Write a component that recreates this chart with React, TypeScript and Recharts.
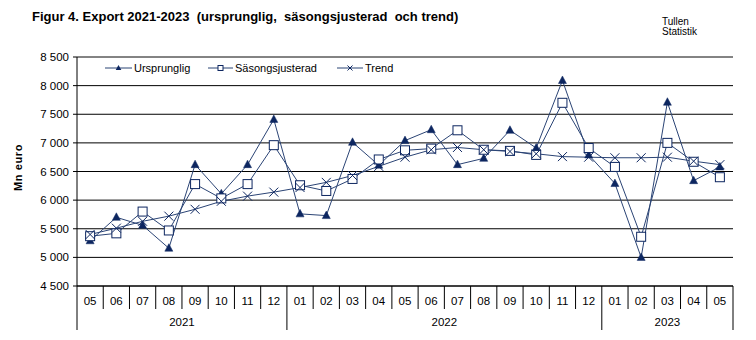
import React from 'react';
import { LineChart, Line, XAxis, YAxis, CartesianGrid, Legend, ReferenceLine } from 'recharts';

const months = ['05','06','07','08','09','10','11','12','01','02','03','04','05','06','07','08','09','10','11','12','01','02','03','04','05'];
const years = ['2021','2021','2021','2021','2021','2021','2021','2021','2022','2022','2022','2022','2022','2022','2022','2022','2022','2022','2022','2022','2023','2023','2023','2023','2023'];
const ursprunglig = [5290,5700,5560,5160,6620,6110,6620,7410,5760,5730,7010,6610,7040,7230,6620,6730,7220,6910,8090,6790,6290,5000,7710,6340,6580];
const sasongsjusterad = [5370,5420,5800,5470,6280,6030,6280,6960,6260,6160,6370,6710,6870,6900,7220,6880,6860,6790,7700,6910,6580,5360,7000,6670,6400];
const trend = [5400,5510,5630,5720,5840,5980,6070,6140,6220,6310,6430,6590,6750,6880,6920,6880,6850,6810,6760,6750,6740,6740,6750,6680,6620];
const yTicks = [4500,5000,5500,6000,6500,7000,7500,8000,8500];

const NAVY = '#0d2660';
const LINE = '#2b4475';
const FONT = "Arial, 'Liberation Sans', sans-serif";

const W = 756, H = 340;
const M_LEFT = 77, M_RIGHT = 23, M_TOP = 57, X_H = 54;
const PLOT_W = W - M_LEFT - M_RIGHT;
const BAND = PLOT_W / months.length;

const data = months.map((m, i) => ({
  key: i,
  month: m,
  year: years[i],
  u: ursprunglig[i],
  s: sasongsjusterad[i],
  t: trend[i],
}));

const fmt = (v: number) => String(v).replace(/\B(?=(\d{3})+(?!\d))/g, ' ');

const Tri = (p: any) => {
  const { cx, cy } = p;
  if (cx == null || cy == null) return null;
  return <polygon key={`tri-${p.index}`} points={`${cx},${cy - 4.5} ${cx - 4},${cy + 3} ${cx + 4},${cy + 3}`} fill={NAVY} stroke={NAVY} strokeWidth={0.5} />;
};
const Sq = (p: any) => {
  const { cx, cy } = p;
  if (cx == null || cy == null) return null;
  return <rect key={`sq-${p.index}`} x={cx - 4.5} y={cy - 4.5} width={9} height={9} fill="#fff" stroke={NAVY} strokeWidth={1} />;
};
const Cross = (p: any) => {
  const { cx, cy } = p;
  if (cx == null || cy == null) return null;
  return (
    <g key={`x-${p.index}`}>
      <line x1={cx - 4.5} y1={cy - 4.5} x2={cx + 4.5} y2={cy + 4.5} stroke={NAVY} strokeWidth={1} />
      <line x1={cx - 4.5} y1={cy + 4.5} x2={cx + 4.5} y2={cy - 4.5} stroke={NAVY} strokeWidth={1} />
    </g>
  );
};

const XTick = (props: any) => {
  const { x, y, payload } = props;
  const i = payload.index;
  const half = BAND / 2;
  const left = x - half;
  const yearStart = i === 0 || years[i] !== years[i - 1];
  const last = i === months.length - 1;
  let yearLabel = null;
  if (yearStart) {
    let n = 0;
    for (let j = i; j < years.length && years[j] === years[i]; j++) n++;
    yearLabel = (
      <text x={left + (n * BAND) / 2} y={y + 40} textAnchor="middle" fontSize={11.5} fill="#000" fontFamily={FONT}>
        {years[i]}
      </text>
    );
  }
  return (
    <g>
      <line x1={left} y1={y} x2={left} y2={y + (yearStart ? 44 : 23)} stroke="#000" strokeWidth={1} />
      {last && <line x1={x + half} y1={y} x2={x + half} y2={y + 44} stroke="#000" strokeWidth={1} />}
      <text x={x} y={y + 19} textAnchor="middle" fontSize={11.5} fill="#000" fontFamily={FONT}>
        {months[i]}
      </text>
      {yearLabel}
    </g>
  );
};

const YLabel = (props: any) => {
  const vb = props.viewBox || {};
  const cx = (vb.x ?? 0) + 22;
  const cy = (vb.y ?? 0) + (vb.height ?? 0) / 2 - 4;
  return (
    <text x={cx} y={cy} transform={`rotate(-90, ${cx}, ${cy})`} textAnchor="middle" fontSize={11} fontWeight="bold" fill="#000" fontFamily={FONT} letterSpacing={0.6}>
      Mn euro
    </text>
  );
};

const LegendContent = () => {
  const items = [
    { label: 'Ursprunglig', x: 0, w: 27, tx: 29, kind: 'tri' },
    { label: 'Säsongsjusterad', x: 103, w: 25, tx: 130, kind: 'sq' },
    { label: 'Trend', x: 232, w: 26, tx: 260, kind: 'x' },
  ];
  return (
    <svg width={320} height={16} style={{ display: 'block' }}>
      {items.map((it) => {
        const cx = it.x + it.w / 2;
        const cy = 7;
        return (
          <g key={it.label}>
            <line x1={it.x} y1={cy} x2={it.x + it.w} y2={cy} stroke={LINE} strokeWidth={1} />
            {it.kind === 'tri' && <polygon points={`${cx},${cy - 3} ${cx - 2.8},${cy + 2} ${cx + 2.8},${cy + 2}`} fill={NAVY} />}
            {it.kind === 'sq' && <rect x={cx - 2.5} y={cy - 2.5} width={5} height={5} fill="#fff" stroke={NAVY} />}
            {it.kind === 'x' && (
              <g>
                <line x1={cx - 2.5} y1={cy - 2.5} x2={cx + 2.5} y2={cy + 2.5} stroke={NAVY} />
                <line x1={cx - 2.5} y1={cy + 2.5} x2={cx + 2.5} y2={cy - 2.5} stroke={NAVY} />
              </g>
            )}
            <text x={it.tx} y={cy + 4} fontSize={11} fill="#000" fontFamily={FONT}>{it.label}</text>
          </g>
        );
      })}
    </svg>
  );
};

export default function App() {
  return (
    <div style={{ position: 'absolute', left: 0, top: 0, width: W, height: H, background: '#fff', fontFamily: FONT }}>
      <div style={{ position: 'absolute', left: 32, top: 9, fontSize: 13, fontWeight: 'bold', whiteSpace: 'pre', color: '#000' }}>
        {'Figur 4. Export 2021-2023  (ursprunglig,  säsongsjusterad  och trend)'}
      </div>
      <div style={{ position: 'absolute', left: 662, top: 17, fontSize: 10, lineHeight: '10px', color: '#000' }}>
        <div>Tullen</div>
        <div>Statistik</div>
      </div>
      <div style={{ position: 'absolute', left: 0, top: 0 }}>
        <LineChart width={W} height={H} data={data} margin={{ top: M_TOP, right: M_RIGHT, left: 0, bottom: 0 }}>
          <CartesianGrid horizontal vertical={false} stroke="#000" strokeWidth={1} />
          <ReferenceLine y={8500} stroke="#888" strokeWidth={1} />
          <XAxis
            dataKey="key"
            type="category"
            interval={0}
            height={X_H}
            tickSize={0}
            tickMargin={0}
            tickLine={false}
            axisLine={{ stroke: '#000' }}
            padding={{ left: BAND / 2, right: BAND / 2 }}
            tick={<XTick />}
          />
          <YAxis
            domain={[4500, 8500]}
            ticks={yTicks}
            width={M_LEFT}
            tickSize={4}
            tickMargin={4}
            tickFormatter={fmt}
            tick={{ fontSize: 11.5, fill: '#000', fontFamily: FONT }}
            tickLine={{ stroke: '#000' }}
            axisLine={{ stroke: '#000' }}
            allowDataOverflow
            label={<YLabel />}
          />
          <YAxis yAxisId="right" orientation="right" width={0} tick={false} tickLine={false} axisLine={{ stroke: '#888' }} />
          <Legend
            layout="vertical"
            align="center"
            verticalAlign="middle"
            content={<LegendContent />}
            wrapperStyle={{ position: 'absolute', left: 105, top: 61, width: 320, height: 16 }}
          />
          <Line dataKey="u" name="Ursprunglig" stroke={LINE} strokeWidth={1} dot={<Tri />} activeDot={false} isAnimationActive={false} />
          <Line dataKey="s" name="Säsongsjusterad" stroke={LINE} strokeWidth={1} dot={<Sq />} activeDot={false} isAnimationActive={false} />
          <Line dataKey="t" name="Trend" stroke={LINE} strokeWidth={1} dot={<Cross />} activeDot={false} isAnimationActive={false} />
        </LineChart>
      </div>
    </div>
  );
}
